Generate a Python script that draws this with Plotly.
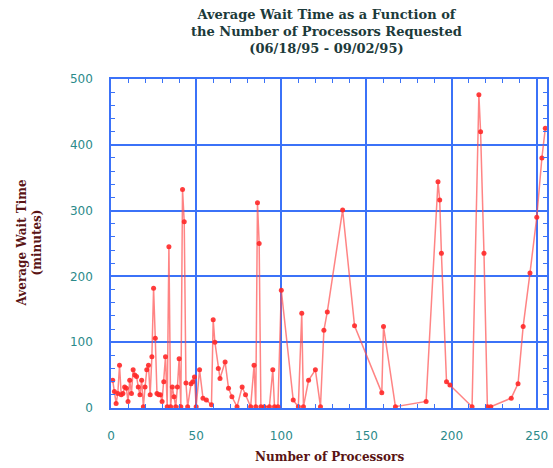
import plotly.graph_objects as go

processors = [1, 2, 3, 4, 5, 6, 7, 8, 9, 10, 11, 12, 13, 14, 15, 16, 17, 18, 19, 20,
              21, 22, 23, 24, 25, 26, 27, 28, 29, 30, 31, 32, 33, 34, 35, 36, 37, 38, 39, 40,
              41, 42, 43, 44, 45, 47, 48, 49, 50, 52, 54, 56, 59, 60, 61, 63, 64, 67, 69, 71,
              74, 77, 79, 82, 84, 85, 86, 87, 88, 90, 93, 95, 96, 98, 100, 107, 110, 112, 113, 116,
              120, 123, 125, 127, 136, 143, 159, 160, 167, 185, 192, 193, 194, 197, 199, 212, 216, 217,
              219, 221, 223, 235, 239, 242, 246, 250, 253, 255]
wait_minutes = [42, 25, 7, 22, 65, 20, 22, 32, 30, 10, 42, 22, 58, 50, 48, 32, 20, 42, 2, 32,
                58, 65, 20, 78, 182, 106, 22, 20, 20, 10, 40, 78, 2, 245, 2, 32, 17, 2, 32, 75,
                2, 332, 283, 38, 2, 37, 40, 47, 2, 58, 15, 12, 5, 134, 100, 60, 45, 70, 30, 17,
                2, 32, 20, 2, 65, 2, 312, 250, 2, 2, 2, 58, 2, 2, 179, 12, 2, 144, 2, 42,
                58, 2, 118, 146, 301, 125, 23, 124, 2, 10, 344, 316, 235, 40, 35, 2, 476, 420,
                235, 2, 2, 15, 37, 124, 205, 290, 380, 425]

x_ticks = [0, 50, 100, 150, 200, 250]
y_ticks = [0, 100, 200, 300, 400, 500]

title_lines = ["Average Wait Time as a Function of",
               "the Number of Processors Requested",
               "(06/18/95 - 09/02/95)"]
x_title = "Number of Processors"
y_title_lines = ["Average Wait Time", "(minutes)"]

grid_blue = "#3b72f8"
label_teal = "#2b8a8a"
title_dark = "#1c3a3a"
axis_title_red = "#5a1414"

M_L, M_R, M_T, M_B = 111, 6, 79, 60
plot_h = 468 - M_T - M_B
plot_w = 553 - M_L - M_R

fig = go.Figure()
fig.add_trace(go.Scatter(
    x=processors, y=wait_minutes, mode="lines+markers",
    line=dict(color="rgba(255,80,80,0.7)", width=1.5),
    marker=dict(color="rgba(255,40,40,0.9)", size=5),
    showlegend=False, cliponaxis=False, hoverinfo="skip",
))

fig.update_layout(
    width=553, height=468,
    margin=dict(l=M_L, r=M_R, t=M_T, b=M_B, autoexpand=False),
    paper_bgcolor="white", plot_bgcolor="white",
    annotations=[
        dict(text="<br>".join(title_lines), x=0.495, xref="paper", y=1 + (M_T - 5) / plot_h,
             yref="paper", yanchor="top", xanchor="center", showarrow=False, align="center",
             font=dict(family="DejaVu Serif", size=13, color=title_dark, weight="bold")),
        dict(text=x_title, x=0.5, xref="paper", y=-(457 - 408) / plot_h, yref="paper",
             yanchor="middle", xanchor="center", showarrow=False,
             font=dict(family="DejaVu Serif", size=12, color=axis_title_red, weight="bold")),
        dict(text="<br>".join(y_title_lines), x=-(111 - 29) / plot_w, xref="paper",
             y=0.5, yref="paper", xanchor="center", yanchor="middle", showarrow=False,
             textangle=-90, align="center",
             font=dict(family="DejaVu Serif", size=12, color=axis_title_red, weight="bold")),
    ],
)

fig.update_xaxes(
    range=[0, 256], tickvals=x_ticks, ticktext=[str(v) for v in x_ticks],
    showgrid=True, gridcolor=grid_blue, gridwidth=1.5,
    showline=True, linecolor=grid_blue, linewidth=1.5, mirror="allticks",
    ticks="inside", ticklen=0, tickcolor=grid_blue,
    minor=dict(dtick=10, tick0=0, ticks="inside", ticklen=4, tickcolor=grid_blue, showgrid=False),
    tickfont=dict(family="DejaVu Sans", size=12, color=label_teal),
    ticklabelstandoff=16, automargin=False,
    zeroline=False,
)
fig.update_yaxes(
    range=[0, 500], tickvals=y_ticks, ticktext=[str(v) for v in y_ticks],
    showgrid=True, gridcolor=grid_blue, gridwidth=1.5,
    showline=True, linecolor=grid_blue, linewidth=1.5, mirror="allticks",
    ticks="inside", ticklen=0, tickcolor=grid_blue,
    minor=dict(dtick=20, tick0=0, ticks="inside", ticklen=4, tickcolor=grid_blue, showgrid=False),
    tickfont=dict(family="DejaVu Sans", size=12, color=label_teal),
    ticklabelstandoff=14, automargin=False,
    zeroline=False,
)

fig.write_html("out.html", config={"displayModeBar": False},
               post_script="document.body.style.margin='0';document.body.style.padding='0';")
